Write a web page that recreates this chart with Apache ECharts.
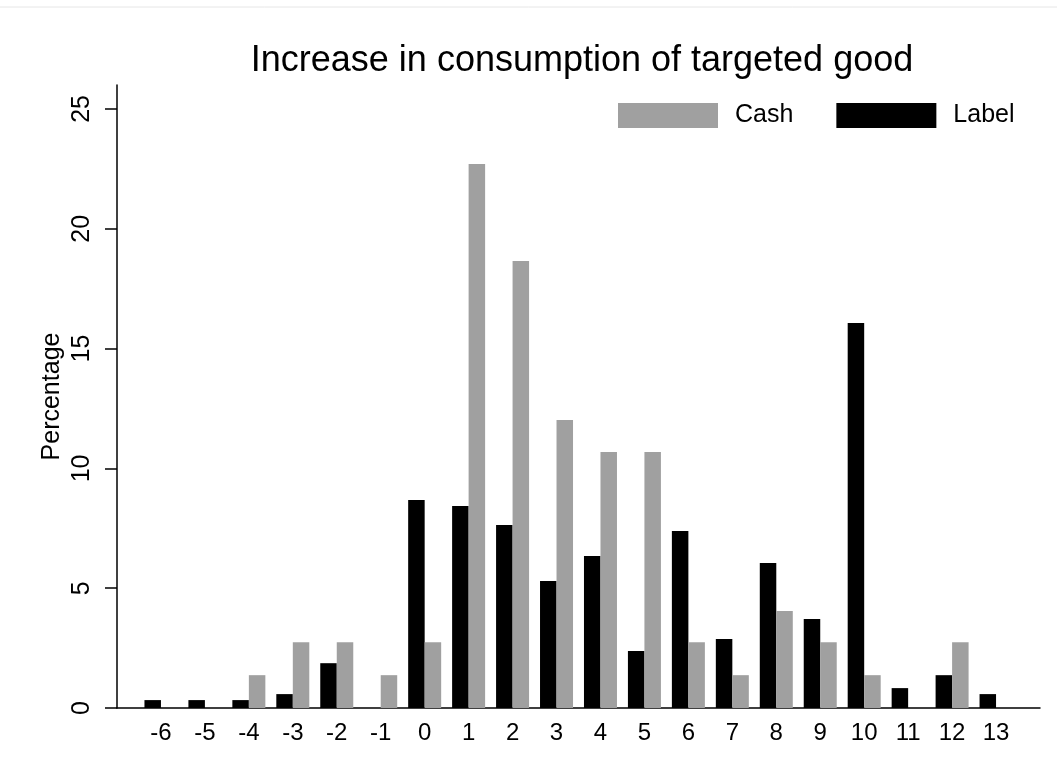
<!DOCTYPE html>
<html>
<head>
<meta charset="utf-8">
<script src="https://cdn.jsdelivr.net/npm/echarts@6/dist/echarts.min.js"></script>
<style>
  html, body { margin: 0; padding: 0; background: #fff; }
  #chart { width: 1057px; height: 773px; }
</style>
</head>
<body>
<div id="chart"></div>
<script>
// change in consumption (x) and share of respondents (%) per group
const categories = [-6, -5, -4, -3, -2, -1, 0, 1, 2, 3, 4, 5, 6, 7, 8, 9, 10, 11, 12, 13];
const labelPct = [0.33, 0.33, 0.33, 0.58, 1.87, 0, 8.68, 8.43, 7.64, 5.3, 6.34, 2.38, 7.39, 2.88, 6.05, 3.71, 16.07, 0.83, 1.37, 0.58];
const cashPct = [0, 0, 1.37, 2.74, 2.74, 1.37, 2.74, 22.7, 18.66, 12.02, 10.68, 10.68, 2.74, 1.37, 4.05, 2.74, 1.37, 0, 2.74, 0];
const yTicks = [0, 5, 10, 15, 20, 25];

const font = "'Liberation Sans', Arial, sans-serif";

let option = {
  animation: false,
  backgroundColor: "#fff",
  title: {
    text: "Increase in consumption of targeted good",
    left: 577,
    top: 38,
    textAlign: "center",
    textStyle: { fontFamily: font, fontSize: 36, fontWeight: "normal", color: "#000" }
  },
  legend: {
    data: ["Cash", "Label"],
    left: 613,
    top: 98,
    icon: "rect",
    itemWidth: 100,
    itemHeight: 25,
    itemGap: 43,
    textStyle: { fontFamily: font, fontSize: 25, color: "#000", padding: [5, 0, 0, 12] }
  },
  grid: {
    left: 117,
    right: 17,
    top: 85,
    bottom: 65
  },
  xAxis: {
    type: "value",
    min: -7,
    max: 14,
    interval: 1,
    axisTick: { show: false },
    axisLine: { lineStyle: { color: "#000", width: 1.5 } },
    axisLabel: {
      customValues: categories,
      fontFamily: font,
      fontSize: 24,
      color: "#000",
      margin: 13
    },
    splitLine: { show: false }
  },
  yAxis: {
    type: "value",
    min: 0,
    max: 26,
    name: "Percentage",
    nameLocation: "middle",
    nameGap: 52,
    nameMoveOverlap: false,
    nameTextStyle: { fontFamily: font, fontSize: 25, color: "#000" },
    axisLine: { show: true, onZero: false, lineStyle: { color: "#000", width: 1.5 } },
    axisTick: {
      show: true,
      customValues: yTicks,
      length: 12,
      lineStyle: { color: "#000", width: 1.5 }
    },
    axisLabel: {
      customValues: yTicks,
      rotate: 90,
      fontFamily: font,
      fontSize: 25,
      color: "#000",
      margin: 22
    },
    splitLine: { show: false }
  },
  graphic: [
    {
      type: "line",
      shape: { x1: 0, y1: 7, x2: 1057, y2: 7 },
      style: { stroke: "#e6e6e6", lineWidth: 1 }
    }
  ],
  series: [
    {
      name: "Label",
      type: "bar",
      barWidth: 16.5,
      barGap: "0%",
      itemStyle: { color: "#000" },
      data: categories.map((c, i) => [c, labelPct[i]])
    },
    {
      name: "Cash",
      type: "bar",
      barWidth: 16.5,
      barGap: "0%",
      itemStyle: { color: "#a0a0a0" },
      data: categories.map((c, i) => [c, cashPct[i]])
    }
  ]
};

let myChart = echarts.init(document.getElementById("chart"));
myChart.setOption(option);
</script>
</body>
</html>
